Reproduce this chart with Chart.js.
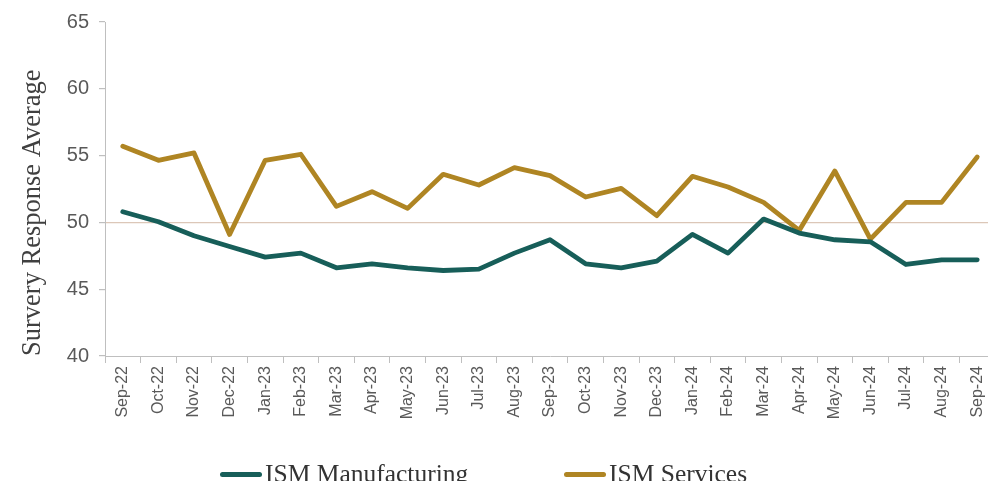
<!DOCTYPE html>
<html>
<head>
<meta charset="utf-8">
<script src="https://cdn.jsdelivr.net/npm/chart.js@4"></script>
<style>
  html, body { margin: 0; padding: 0; overflow: hidden; background: #fff; }
  #wrap { position: relative; width: 1000px; height: 481px; }
  #legend { position: absolute; top: 459px; left: 0; width: 1000px; height: 30px;
            font-family: "Liberation Serif", serif; font-size: 25.5px; color: #333333; }
  .item { position: absolute; top: 0; white-space: nowrap; line-height: 30px; }
  .swatch { display: inline-block; width: 42px; height: 5px; border-radius: 3px;
            vertical-align: middle; margin-right: 3px; position: relative; top: -2px; }
</style>
</head>
<body>
<div id="wrap">
  <canvas id="myChart"></canvas>
  <div id="legend">
    <div class="item" style="left:220px"><span class="swatch" style="background:#175E59"></span>ISM Manufacturing</div>
    <div class="item" style="left:564px"><span class="swatch" style="background:#AF8523"></span>ISM Services</div>
  </div>
</div>
<script>
// Data
var months = ["Sep-22", "Oct-22", "Nov-22", "Dec-22", "Jan-23", "Feb-23", "Mar-23", "Apr-23", "May-23",
  "Jun-23", "Jul-23", "Aug-23", "Sep-23", "Oct-23", "Nov-23", "Dec-23", "Jan-24", "Feb-24", "Mar-24",
  "Apr-24", "May-24", "Jun-24", "Jul-24", "Aug-24", "Sep-24"];
var manufacturing = [50.8, 50.05, 49.0, 48.2, 47.4, 47.7, 46.6, 46.9, 46.6, 46.4, 46.5, 47.7, 48.7,
  46.9, 46.6, 47.1, 49.1, 47.7, 50.25, 49.2, 48.7, 48.55, 46.85, 47.2, 47.2];
var services = [55.7, 54.65, 55.2, 49.1, 54.65, 55.1, 51.2, 52.3, 51.05, 53.6, 52.8, 54.1, 53.5,
  51.9, 52.55, 50.5, 53.45, 52.65, 51.5, 49.4, 53.85, 48.75, 51.5, 51.5, 54.9];
var yMin = 40, yMax = 65, yStep = 5;

var axisGray = "#BFBFBF";
var labelGray = "#595959";

new Chart("myChart", {
  type: "line",
  data: {
    labels: months,
    datasets: [{
      label: "ISM Manufacturing",
      data: manufacturing,
      borderColor: "#175E59",
      backgroundColor: "#175E59"
    }, {
      label: "ISM Services",
      data: services,
      borderColor: "#AF8523",
      backgroundColor: "#AF8523"
    }]
  },
  options: {
    responsive: true,
    maintainAspectRatio: false,
    animation: false,
    layout: { padding: { top: 11, right: 5, bottom: 0, left: 0 } },
    elements: {
      line: { borderWidth: 4.8, tension: 0, borderJoinStyle: "round", borderCapStyle: "round" },
      point: { radius: 0, hoverRadius: 0 }
    },
    plugins: {
      legend: { display: false },
      tooltip: { enabled: false }
    },
    scales: {
      x: {
        offset: true,
        afterFit: function (scale) { scale.height = 125; },
        grid: { drawOnChartArea: false, offset: true, tickLength: 7, tickColor: axisGray },
        border: { color: axisGray, width: 1 },
        ticks: {
          minRotation: 90, maxRotation: 90, padding: 3, autoSkip: false,
          color: labelGray, font: { family: "Liberation Sans", size: 16 }
        }
      },
      y: {
        min: yMin, max: yMax,
        afterFit: function (scale) { scale.width = 105; },
        grid: {
          color: function (c) { return c.tick && c.tick.value === 50 ? "#DCC7B8" : "rgba(0,0,0,0)"; },
          tickColor: axisGray, tickLength: 6, lineWidth: 1.2
        },
        border: { color: axisGray, width: 1 },
        ticks: {
          stepSize: yStep, padding: 10,
          color: labelGray, font: { family: "Liberation Sans", size: 20 }
        },
        title: {
          display: true, text: "Survery Response Average", align: "start",
          color: "#404040", font: { family: "Liberation Serif", size: 26.5 },
          padding: { top: 17, bottom: 0 }
        }
      }
    }
  }
});
</script>
</body>
</html>
